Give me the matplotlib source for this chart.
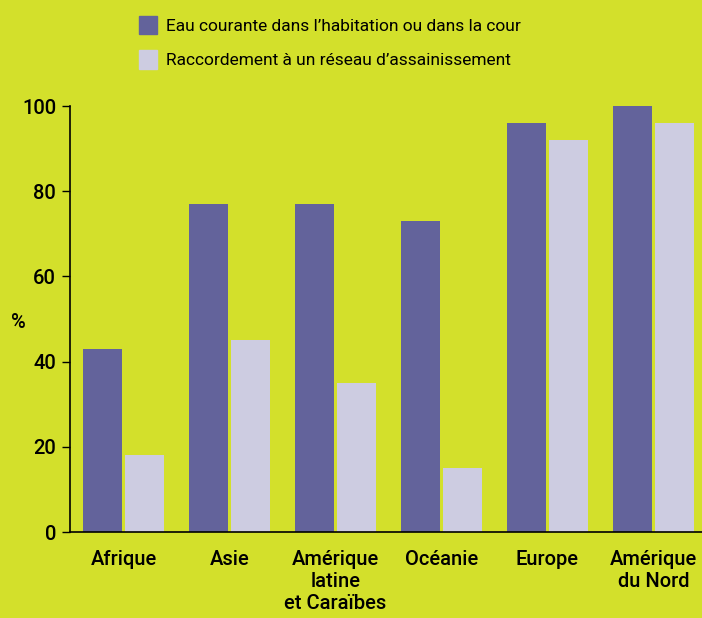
import matplotlib.pyplot as plt
import numpy as np
from matplotlib.patches import Patch

regions = ["Afrique", "Asie", "Amérique\nlatine\net Caraïbes", "Océanie",
           "Europe", "Amérique\ndu Nord"]
water = [43, 77, 77, 73, 96, 100]
sewer = [18, 45, 35, 15, 92, 96]
series_names = ["Eau courante dans l’habitation ou dans la cour",
                "Raccordement à un réseau d’assainissement"]
yticks = [0, 20, 40, 60, 80, 100]

BG = "#d3e02b"
DARK = "#63639b"
LIGHT = "#cdcce1"

plt.rcParams['font.family'] = ['Roboto', 'DejaVu Sans']

fig = plt.figure(figsize=(7.02, 6.18), dpi=100, facecolor=BG)
ax = fig.add_axes([70/702, 86/618, 632/702, 426/618])
ax.set_facecolor(BG)

x = np.arange(len(regions))
w = 0.368
off = 0.198
ax.bar(x - off, water, w, color=DARK)
ax.bar(x + off, sewer, w, color=LIGHT)

ax.set_xlim(-0.505, 5.458)
ax.set_ylim(0, 100)
ax.set_yticks(yticks)
ax.set_xticks(x)
ax.set_xticklabels(regions, fontsize=14.5, fontweight='medium', linespacing=1.2)
ax.tick_params(axis='x', length=0, pad=13)
ax.tick_params(axis='y', length=6, width=1, pad=4, labelsize=14.5)
for lab in ax.get_yticklabels():
    lab.set_fontweight('medium')
for s in ['top', 'right']:
    ax.spines[s].set_visible(False)
for s in ['left', 'bottom']:
    ax.spines[s].set_linewidth(1.2)

fig.text(18/702, 1 - 323/618, "%", fontsize=14.5, fontweight='medium',
         ha='center', va='center')

handles = [Patch(color=DARK), Patch(color=LIGHT)]
fig.legend(handles, series_names, loc='upper left', frameon=False,
           bbox_to_anchor=(123/702, 1 - 0/618), fontsize=12.5,
           handlelength=1.05, handleheight=1.25, handletextpad=0.55,
           labelspacing=0.95)

fig.savefig("out.png", dpi=100, facecolor=BG)
